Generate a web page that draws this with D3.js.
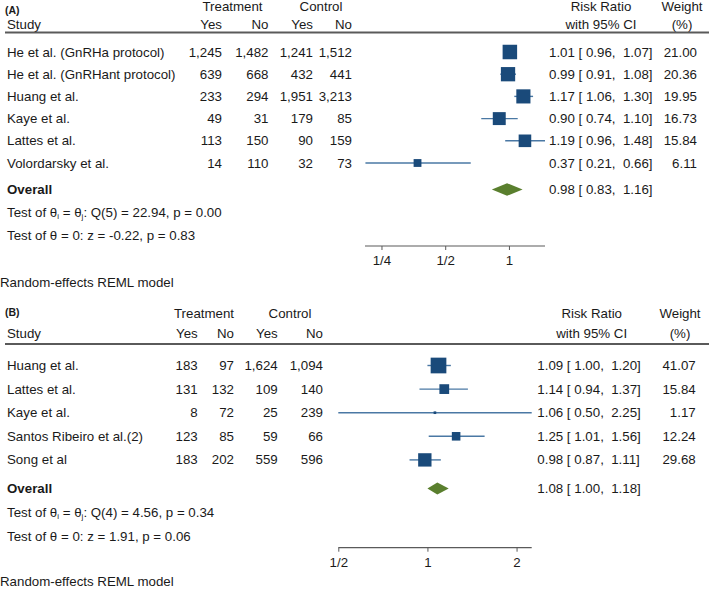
<!DOCTYPE html>
<html><head><meta charset="utf-8">
<script src="https://cdn.jsdelivr.net/npm/d3@7"></script>
<style>
body{margin:0;background:#fff;}
svg{display:block;font-family:"Liberation Sans",Arial,sans-serif;}
text{fill:#1a1a1a;}
.pre{white-space:pre;}
</style></head><body>
<svg id="chart" width="709" height="592"></svg>
<script>
// ---------- Panel A data ----------
const studiesA = ["He et al. (GnRHa protocol)","He et al. (GnRHant protocol)","Huang et al.","Kaye et al.","Lattes et al.","Volordarsky et al."];
const trtYesA = [1245, 639, 233, 49, 113, 14];
const trtNoA  = [1482, 668, 294, 31, 150, 110];
const ctlYesA = [1241, 432, 1951, 179, 90, 32];
const ctlNoA  = [1512, 441, 3213, 85, 159, 73];
const rrA     = [1.01, 0.99, 1.17, 0.90, 1.19, 0.37];
const loA     = [0.96, 0.91, 1.06, 0.74, 0.96, 0.21];
const hiA     = [1.07, 1.08, 1.30, 1.10, 1.48, 0.66];
const weightA = [21.00, 20.36, 19.95, 16.73, 15.84, 6.11];
const overallA = [0.98, 0.83, 1.16];
const testHetA = ["5", "22.94", "0.00"];
const testEffA = ["-0.22", "0.83"];
const ticksA = [0.25, 0.5, 1];
const tickLabelsA = ["1/4", "1/2", "1"];

// ---------- Panel B data ----------
const studiesB = ["Huang et al.","Lattes et al.","Kaye et al.","Santos Ribeiro et al.(2)","Song et al"];
const trtYesB = [183, 131, 8, 123, 183];
const trtNoB  = [97, 132, 72, 85, 202];
const ctlYesB = [1624, 109, 25, 59, 559];
const ctlNoB  = [1094, 140, 239, 66, 596];
const rrB     = [1.09, 1.14, 1.06, 1.25, 0.98];
const loB     = [1.00, 0.94, 0.50, 1.01, 0.87];
const hiB     = [1.20, 1.37, 2.25, 1.56, 1.11];
const weightB = [41.07, 15.84, 1.17, 12.24, 29.68];
const overallB = [1.08, 1.00, 1.18];
const testHetB = ["4", "4.56", "0.34"];
const testEffB = ["1.91", "0.06"];
const ticksB = [0.5, 1, 2];
const tickLabelsB = ["1/2", "1", "2"];

const svg = d3.select("#chart");
const fmtN = d3.format(",");
const f2 = d3.format(".2f");
const BOX = "#1a4a7a", CI = "#4a78a4", DIA = "#5a7f2e", GRID = "#5a5a5a";
const FS = 13.3;

function panel(p) {
  const g = svg.append("g");
  const x = d3.scaleLog().base(2).domain(p.domain).range(p.range);
  const size = d3.scaleSqrt().domain([0, d3.max(p.weight)]).range([0, p.maxBox]);
  const txt = (xx, yy, s, anchor, extra) => {
    const t = g.append("text").attr("x", xx).attr("y", yy).attr("font-size", FS)
      .attr("text-anchor", anchor || "start").text(s);
    if (extra) extra(t);
    return t;
  };
  // headers
  txt(p.labelX, p.labelY, p.label, "start", t => t.attr("font-size", 10.5).attr("font-weight", "bold"));
  txt(p.trtC, p.hy1 + 4.5, "Treatment", "middle");
  txt(p.ctlC, p.hy1 + 4.5, "Control", "middle");
  txt(p.textX, p.hy2 + 4.5, "Study");
  ["Yes", "No", "Yes", "No"].forEach((s, i) => txt(p.colR[i], p.hy2 + 4.5, s, "end"));
  txt(p.rrC, p.hy1 + 4.5, "Risk Ratio", "middle");
  txt(p.rrC, p.hy2 + 4.5, "with 95% CI", "middle");
  txt(p.wC, p.hy1 + 4.5, "Weight", "middle");
  txt(p.wC, p.hy2 + 4.5, "(%)", "middle");
  g.append("line").attr("x1", 5).attr("x2", 709).attr("y1", p.lineY).attr("y2", p.lineY)
    .attr("stroke", GRID).attr("stroke-width", 2);

  // rows
  p.studies.forEach((s, i) => {
    const y = p.row0 + i * p.step;
    txt(p.textX, y + 4.5, s);
    [p.ty, p.tn, p.cy, p.cn].forEach((arr, j) => txt(p.colR[j], y + 4.5, fmtN(arr[i]), "end"));
    g.append("line").attr("x1", x(p.lo[i])).attr("x2", x(p.hi[i])).attr("y1", y).attr("y2", y)
      .attr("stroke", CI).attr("stroke-width", 1.4);
    const sz = size(p.weight[i]);
    g.append("rect").attr("x", x(p.rr[i]) - sz / 2).attr("y", y - sz / 2)
      .attr("width", sz).attr("height", sz).attr("fill", BOX);
    txt(p.rrX, y + 4.5, `${f2(p.rr[i])} [ ${f2(p.lo[i])},  ${f2(p.hi[i])}]`, "start", t => t.attr("class", "pre"));
    txt(p.wR, y + 4.5, f2(p.weight[i]), "end");
  });

  // overall
  const oy = p.overallY;
  txt(p.textX, oy + 4.5, "Overall", "start", t => t.attr("font-weight", "bold"));
  const [oe, ol, oh] = p.overall;
  g.append("path").attr("d",
    `M${x(ol)},${oy} L${x(oe)},${oy - p.diaH / 2} L${x(oh)},${oy} L${x(oe)},${oy + p.diaH / 2} Z`)
    .attr("fill", DIA);
  txt(p.rrX, oy + 4.5, `${f2(oe)} [ ${f2(ol)},  ${f2(oh)}]`, "start", t => t.attr("class", "pre"));

  // tests
  const t1 = txt(p.textX, p.test1Y + 4.5, "");
  t1.append("tspan").text("Test of θ");
  t1.append("tspan").attr("font-size", 8).attr("dy", 2).text("i");
  t1.append("tspan").attr("dy", -2).text(" = θ");
  t1.append("tspan").attr("font-size", 8).attr("dy", 2).text("j");
  t1.append("tspan").attr("dy", -2).text(`: Q(${p.het[0]}) = ${p.het[1]}, p = ${p.het[2]}`);
  txt(p.textX, p.test2Y + 4.5, `Test of θ = 0: z = ${p.eff[0]}, p = ${p.eff[1]}`);

  // axis
  const ax = g.append("g").attr("transform", `translate(0,${p.axisY})`)
    .call(d3.axisBottom(x).tickValues(p.ticks).tickFormat((d, i) => p.tickLabels[i])
      .tickSize(4).tickPadding(6).tickSizeOuter(0));
  ax.select(".domain").attr("stroke", GRID).attr("stroke-width", 1.2);
  ax.selectAll(".tick line").attr("stroke", GRID);
  ax.selectAll(".tick text").attr("font-size", FS).attr("fill", "#1a1a1a")
    .attr("font-family", "Liberation Sans, Arial, sans-serif");
  ax.select(".domain").attr("d", `M${p.range[0]},0H${p.range[1]}`);

  txt(0, p.modelY + 4.5, "Random-effects REML model");
}

panel({
  label: "(A)", labelX: 5, labelY: 13.5, hy1: 6.8, hy2: 24, lineY: 32.5,
  textX: 7, colR: [222, 268.5, 313, 352], trtC: 232.5, ctlC: 321,
  rrC: 601, wC: 682, rrX: 549, wR: 697,
  studies: studiesA, ty: trtYesA, tn: trtNoA, cy: ctlYesA, cn: ctlNoA,
  rr: rrA, lo: loA, hi: hiA, weight: weightA, overall: overallA,
  het: testHetA, eff: testEffA, ticks: ticksA, tickLabels: tickLabelsA,
  domain: [0.209, 1.48], range: [365, 545], maxBox: 14.5,
  row0: 52, step: 22.2, overallY: 189.5, diaH: 12.5, test1Y: 212, test2Y: 235,
  axisY: 246, modelY: 282
});

panel({
  label: "(B)", labelX: 5, labelY: 315.5, hy1: 313, hy2: 333, lineY: 344,
  textX: 7, colR: [197.7, 234, 277.7, 323], trtC: 204, ctlC: 290,
  rrC: 591.7, wC: 680, rrX: 537.3, wR: 695.7,
  studies: studiesB, ty: trtYesB, tn: trtNoB, cy: ctlYesB, cn: ctlNoB,
  rr: rrB, lo: loB, hi: hiB, weight: weightB, overall: overallB,
  het: testHetB, eff: testEffB, ticks: ticksB, tickLabels: tickLabelsB,
  domain: [0.5, 2.25], range: [338.3, 531.7], maxBox: 15.7,
  row0: 365.5, step: 23.6, overallY: 488.5, diaH: 12, test1Y: 512, test2Y: 536.5,
  axisY: 547.7, modelY: 581.5
});
</script></body></html>
